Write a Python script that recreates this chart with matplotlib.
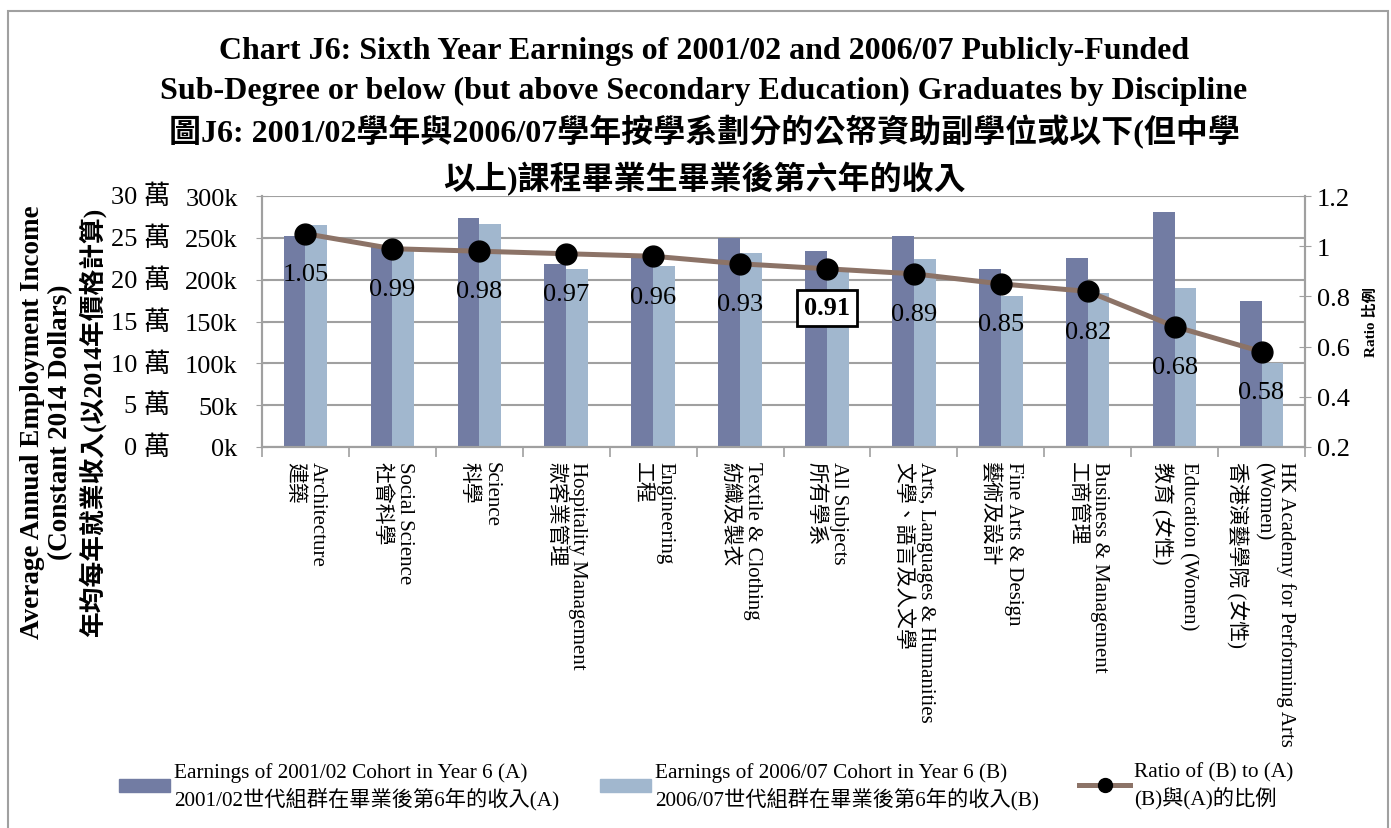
import matplotlib
matplotlib.use("Agg")
import matplotlib.pyplot as plt
import numpy as np
from matplotlib.patches import Patch, Rectangle
from matplotlib.lines import Line2D

plt.rcParams['font.family'] = ['Liberation Serif', 'Noto Sans CJK TC']

# data (earnings in thousands of 2014 HK dollars)
disciplines_en = ["Architecture", "Social Science", "Science", "Hospitality Management",
                  "Engineering", "Textile & Clothing", "All Subjects",
                  "Arts, Languages & Humanities", "Fine Arts & Design",
                  "Business & Management", "Education (Women)",
                  "HK Academy for Performing Arts\n(Women)"]
disciplines_zh = ["建築", "社會科學", "科學", "款客業管理", "工程", "紡織及製衣", "所有學系",
                  "文學、語言及人文學", "藝術及設計", "工商管理", "教育 (女性)",
                  "香港演藝學院 (女性)"]
earn_a = [251.6, 241, 273.5, 219, 226, 249.6, 234.8, 252, 212.8, 226, 280.8, 174.4]
earn_b = [265.5, 239, 266.7, 213, 216, 232, 214, 224.8, 180.8, 184.4, 189.6, 100.4]
ratio = [1.05, 0.99, 0.98, 0.97, 0.96, 0.93, 0.91, 0.89, 0.85, 0.82, 0.68, 0.58]

left_ticks = [0, 50, 100, 150, 200, 250, 300]
wan_labels = ["0 萬", "5 萬", "10 萬", "15 萬", "20 萬", "25 萬", "30 萬"]
ratio_ticks = [0.2, 0.4, 0.6, 0.8, 1.0, 1.2]
ratio_ticklabels = ["0.2", "0.4", "0.6", "0.8", "1", "1.2"]

dark = '#727CA3'
light = '#A1B7CE'
brown = '#8C7367'
gray = '#A0A0A0'

W, H = 1391, 829
fig = plt.figure(figsize=(W / 100, H / 100), dpi=100)
ax = fig.add_axes([262 / W, 1 - 448 / H, (1305 - 262) / W, (448 - 197) / H])

x = np.arange(len(earn_a))
w = 0.25
ax.bar(x - w / 2, earn_a, w, color=dark, zorder=2)
ax.bar(x + w / 2, earn_b, w, color=light, zorder=2)
ax.set_xlim(-0.5, len(x) - 0.5)
ax.set_ylim(0, 300)
ax.set_yticks(left_ticks)
ax.set_yticklabels([f"{v}k" for v in left_ticks], fontsize=19)
ax.yaxis.grid(True, color=gray, lw=1.5)
ax.set_axisbelow(True)
ax.tick_params(axis='y', direction='inout', length=9, color=gray, pad=13)

for v, lab in zip(left_ticks, wan_labels):
    ax.text(-0.088, v, lab, transform=ax.get_yaxis_transform(), ha='right', va='center', fontsize=19)

labels = [f"{e}\n{z}" for e, z in zip(disciplines_en, disciplines_zh)]
ax.set_xticks(x)
ax.set_xticklabels(labels, rotation=270, ha='center', va='top', fontsize=15,
                   multialignment='left', linespacing=1.25)
ax.tick_params(axis='x', which='major', length=0, pad=10)
ax.set_xticks(np.arange(-0.5, len(x), 1), minor=True)
ax.tick_params(axis='x', which='minor', length=7, color=gray, width=1.2)

ax2 = ax.twinx()
ax2.plot(x, ratio, color=brown, lw=3.6, marker='o', ms=15, mfc='black', mec='black', zorder=3)
ax2.set_ylim(0.2, 1.2)
ax2.set_yticks(ratio_ticks)
ax2.set_yticklabels(ratio_ticklabels, fontsize=19)
ax2.tick_params(axis='y', direction='inout', length=9, color=gray, pad=4)
ax2.set_ylabel("Ratio 比例", fontsize=11, fontweight='bold', labelpad=10)

for i, r in enumerate(ratio):
    if r == 0.91:
        ax2.annotate(f"{r:.2f}", (x[i], r), xytext=(0, -28), textcoords='offset points',
                     ha='center', va='center', fontsize=19, fontweight='bold',
                     bbox=dict(boxstyle='square,pad=0.25', fc='white', ec='black', lw=2))
    else:
        ax2.annotate(f"{r:.2f}", (x[i], r), xytext=(0, -29), textcoords='offset points',
                     ha='center', va='center', fontsize=19)

for a in (ax, ax2):
    for s in a.spines.values():
        s.set_color(gray)
        s.set_linewidth(1.5)
    a.spines['top'].set_visible(False)

# y-axis title (three lines)
fig.text(33 / W, 1 - 422 / H, "Average Annual Employment Income", rotation=90,
         ha='center', va='center', fontsize=19.5, fontweight='bold')
fig.text(61 / W, 1 - 422 / H, "(Constant 2014 Dollars)", rotation=90,
         ha='center', va='center', fontsize=19.5, fontweight='bold')
fig.text(92 / W, 1 - 422 / H, "年均每年就業收入(以2014年價格計算)", rotation=90,
         ha='center', va='center', fontsize=18.5, fontweight='bold')

# title
tx = 704 / W
fig.text(tx, 1 - 52 / H, "Chart J6: Sixth Year Earnings of 2001/02 and 2006/07 Publicly-Funded",
         ha='center', va='center', fontsize=23, fontweight='bold')
fig.text(tx, 1 - 91 / H, "Sub-Degree or below (but above Secondary Education) Graduates by Discipline",
         ha='center', va='center', fontsize=23, fontweight='bold')
fig.text(tx, 1 - 132 / H, "圖J6: 2001/02學年與2006/07學年按學系劃分的公帑資助副學位或以下(但中學",
         ha='center', va='center', fontsize=23, fontweight='bold')
fig.text(tx, 1 - 179 / H, "以上)課程畢業生畢業後第六年的收入",
         ha='center', va='center', fontsize=23, fontweight='bold')

# legend, three separate entries
leg_items = [
    (Patch(color=dark), "Earnings of 2001/02 Cohort in Year 6 (A)\n2001/02世代組群在畢業後第6年的收入(A)", 119),
    (Patch(color=light), "Earnings of 2006/07 Cohort in Year 6 (B)\n2006/07世代組群在畢業後第6年的收入(B)", 600),
    (Line2D([], [], color=brown, lw=3.6, marker='o', ms=10, mfc='black', mec='black'),
     "Ratio of (B) to (A)\n(B)與(A)的比例", 1079),
]
for h, lab, px in leg_items:
    leg = fig.legend(handles=[h], labels=[lab], loc='upper left', bbox_to_anchor=(px / W, 1 - 763 / H),
                     frameon=False, fontsize=15.3, handlelength=2.4, handleheight=0.6,
                     handletextpad=0.2, borderpad=0, borderaxespad=0)
    for t in leg.get_texts():
        t.set_linespacing(1.3)

fig.patches.append(Rectangle((8 / W, -0.01), (1388 - 8) / W, 1.01 - 12 / H, transform=fig.transFigure,
                             fill=False, edgecolor=gray, lw=1.5))

fig.savefig("out.png", dpi=100)
